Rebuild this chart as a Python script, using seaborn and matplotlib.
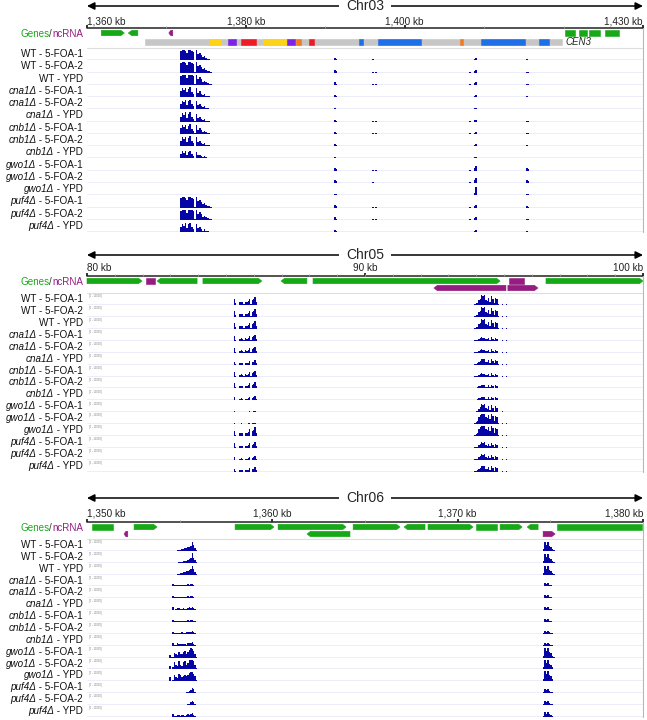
import numpy as np
import pandas as pd
import seaborn as sns
import matplotlib.pyplot as plt
from matplotlib.patches import Polygon
from matplotlib.lines import Line2D
from matplotlib.offsetbox import TextArea, HPacker, AnchoredOffsetbox

sns.set_theme(style="white")
plt.rcParams["font.family"] = ["Liberation Sans", "DejaVu Sans"]

# ---- samples ----
strains = ["WT", "cna1", "cnb1", "gwo1", "puf4"]
conditions = ["5-FOA-1", "5-FOA-2", "YPD"]

# ---- Chr03 data (kb) ----
c3_range = [1360, 1430]
c3_major = [1360, 1380, 1400, 1430]
c3_minor = [1370, 1390, 1410, 1420]
c3_gene_start = [1361.8, 1365.2, 1370.3, 1420.2, 1421.9, 1423.2, 1425.2]
c3_gene_end = [1364.7, 1366.4, 1370.8, 1421.5, 1423.0, 1424.6, 1427.0]
c3_gene_strand = ["+", "-", "-", ".", ".", ".", "."]
c3_gene_kind = ["gene", "gene", "ncrna", "gene", "gene", "gene", "gene"]
c3_gene_row = [0, 0, 0, 0, 0, 0, 0]
c3_cen_span = [1367.3, 1419.8]
c3_cen_start = [1375.4, 1377.8, 1379.4, 1382.2, 1385.2, 1386.3, 1388.0, 1394.3, 1396.6, 1406.9, 1409.6, 1416.9]
c3_cen_end = [1376.9, 1378.8, 1381.3, 1385.2, 1386.2, 1386.9, 1388.6, 1394.8, 1402.0, 1407.4, 1415.2, 1418.2]
c3_cen_kind = ["yellow", "purple", "red", "yellow", "purple", "orange", "red", "blue", "blue", "orange", "blue", "blue"]

c3_main_pos = list(np.linspace(1371.8, 1375.6, 20))
c3_minor_pos = [1391.2, 1391.4, 1396.0, 1396.4, 1408.2, 1408.8, 1409.0, 1415.4, 1415.6]
c3_block = [0.9, 1.0, 1.0, 0.95, 0.7, 1.0, 1.0, 0.95, 0.85, 0.05, 1.0, 0.6, 0.75, 0.55, 0.3, 0.4, 0.25, 0.15, 0.12, 0.05]
c3_peaky = [0.55, 0.85, 0.7, 0.9, 0.45, 0.8, 0.95, 0.5, 0.3, 0.05, 0.85, 0.4, 0.55, 0.35, 0.2, 0.3, 0.15, 0.1, 0.08, 0.03]
c3_small = [0.45, 0.7, 0.55, 0.7, 0.35, 0.6, 0.75, 0.4, 0.2, 0.03, 0.6, 0.3, 0.35, 0.2, 0.12, 0.2, 0.1, 0.06, 0.04, 0.0]
c3_mid = [0.5, 0.8, 0.6, 0.9, 0.4, 0.75, 0.9, 0.45, 0.25, 0.03, 0.75, 0.35, 0.45, 0.3, 0.15, 0.25, 0.1, 0.08, 0.05, 0.0]
c3_none = [0.0] * 20
c3_m_wt = [0.25, 0.12, 0.08, 0.06, 0.05, 0.15, 0.25, 0.1, 0.06]
c3_m_mut = [0.18, 0.08, 0.05, 0.04, 0.04, 0.12, 0.18, 0.07, 0.05]
c3_m_gwo = [0.3, 0.15, 0.05, 0.02, 0.08, 0.3, 0.45, 0.25, 0.15]
c3_m_gwoy = [0.15, 0.1, 0.02, 0.0, 0.05, 0.2, 0.8, 0.1, 0.1]
c3_tracks = [
    c3_block + c3_m_wt, c3_block + c3_m_wt, c3_block + c3_m_wt,
    c3_peaky + c3_m_mut, c3_peaky + c3_m_mut, c3_mid + c3_m_mut,
    c3_peaky + c3_m_mut, c3_peaky + c3_m_mut, c3_small + c3_m_mut,
    c3_none + c3_m_gwo, c3_none + c3_m_gwo, c3_none + c3_m_gwoy,
    c3_block + c3_m_wt, c3_block + c3_m_wt, c3_mid + c3_m_mut,
]

# ---- Chr05 data (kb) ----
c5_range = [80, 100]
c5_major = [80, 90, 100]
c5_minor = list(range(81, 100))
c5_gene_start = [80.0, 82.12, 82.52, 84.17, 86.98, 88.13, 95.18, 96.51, 92.48, 95.14]
c5_gene_end = [81.98, 82.45, 83.96, 86.29, 87.91, 94.86, 95.72, 100.0, 95.07, 96.22]
c5_gene_strand = ["+", ".", "-", "+", "-", "+", ".", "+", "-", "+"]
c5_gene_kind = ["gene", "ncrna", "gene", "gene", "gene", "gene", "ncrna", "gene", "ncrna", "ncrna"]
c5_gene_row = [0, 0, 0, 0, 0, 0, 0, 0, 1, 1]

c5a_pos = list(np.linspace(85.30, 86.10, 17))
c5b_pos = list(np.linspace(93.95, 95.10, 24))
c5a_wt = [0.6, 0.15, 0, 0, 0.25, 0.3, 0.25, 0.05, 0.3, 0.25, 0.35, 0.6, 0.05, 0.45, 0.55, 0.8, 0.3]
c5a_mid = [0.5, 0.1, 0, 0, 0.2, 0.25, 0.2, 0.05, 0.25, 0.2, 0.3, 0.5, 0.05, 0.35, 0.45, 0.6, 0.2]
c5a_low = [0.3, 0.05, 0, 0, 0.15, 0.2, 0.15, 0, 0.15, 0.15, 0.2, 0.35, 0, 0.25, 0.3, 0.45, 0.15]
c5a_faint = [0.1, 0.02, 0, 0, 0.05, 0.08, 0.05, 0, 0.05, 0.05, 0.08, 0.12, 0, 0.08, 0.1, 0.15, 0.05]
c5a_tall = [0.55, 0.15, 0, 0, 0.3, 0.35, 0.3, 0.05, 0.35, 0.3, 0.4, 0.7, 0.05, 0.55, 0.65, 0.95, 0.35]
c5b_wt = [0.1, 0.15, 0.2, 0.45, 0.6, 1.0, 0.85, 0.95, 0.5, 0.4, 0.7, 0.3, 0.85, 0.55, 0.2, 0.7, 0.55, 0.05, 0, 0, 0.12, 0, 0, 0.1]
c5b_big = [0.15, 0.25, 0.35, 0.7, 0.9, 1.0, 1.0, 1.0, 0.7, 0.6, 0.9, 0.5, 1.0, 0.8, 0.3, 0.85, 0.7, 0.08, 0, 0, 0.15, 0, 0, 0.12]
c5b_puf = [0.08, 0.12, 0.15, 0.35, 0.5, 0.85, 0.7, 0.8, 0.4, 0.3, 0.6, 0.25, 0.75, 0.45, 0.15, 0.6, 0.45, 0.05, 0, 0, 0.1, 0, 0, 0.08]
c5b_mid = [0.08, 0.1, 0.15, 0.3, 0.4, 0.6, 0.55, 0.6, 0.3, 0.25, 0.45, 0.2, 0.55, 0.35, 0.12, 0.45, 0.35, 0.03, 0, 0, 0.08, 0, 0, 0.06]
c5b_small = [0.05, 0.08, 0.1, 0.2, 0.25, 0.35, 0.3, 0.3, 0.15, 0.15, 0.3, 0.1, 0.35, 0.2, 0.08, 0.3, 0.2, 0, 0, 0, 0.05, 0, 0, 0.05]
c5_tracks = [
    c5a_wt + c5b_wt, c5a_wt + c5b_wt, c5a_wt + c5b_wt,
    c5a_mid + c5b_small, c5a_mid + c5b_small, c5a_low + c5b_mid,
    c5a_mid + c5b_small, c5a_mid + c5b_small, c5a_low + c5b_small,
    c5a_faint + c5b_puf, c5a_faint + c5b_big, c5a_tall + c5b_big,
    c5a_mid + c5b_mid, c5a_low + c5b_mid, c5a_low + c5b_mid,
]

# ---- Chr06 data (kb) ----
c6_range = [1350, 1380]
c6_major = [1350, 1360, 1370, 1380]
c6_minor = [1355, 1365, 1375]
c6_gene_start = [1350.27, 1352.0, 1352.54, 1357.99, 1360.31, 1361.87, 1364.36, 1367.11, 1368.40, 1370.99, 1372.29, 1373.75, 1374.61, 1375.36]
c6_gene_end = [1351.40, 1352.2, 1353.78, 1360.09, 1363.98, 1364.19, 1366.89, 1368.24, 1370.83, 1372.13, 1373.48, 1374.34, 1375.26, 1379.95]
c6_gene_strand = [".", "-", "+", "+", "+", "-", "+", "-", "+", ".", "+", "-", "+", "."]
c6_gene_kind = ["gene", "ncrna", "gene", "gene", "gene", "gene", "gene", "gene", "gene", "gene", "gene", "gene", "ncrna", "gene"]
c6_gene_row = [0, 1, 0, 0, 0, 1, 0, 0, 0, 0, 0, 0, 1, 0]

c6a_pos = list(np.linspace(1354.40, 1355.92, 20))
c6b_pos = list(np.linspace(1374.64, 1375.20, 8))
c6a_wt1 = [0, 0, 0, 0, 0, 0, 0.05, 0.08, 0.1, 0.15, 0.2, 0.25, 0.3, 0.35, 0.4, 0.5, 0.9, 0.6, 0.3, 0.05]
c6a_wt2 = [0, 0, 0, 0, 0, 0, 0, 0.05, 0.08, 0.1, 0.15, 0.2, 0.2, 0.25, 0.35, 0.5, 1.0, 0.5, 0.25, 0.05]
c6a_wty = [0, 0, 0, 0, 0, 0, 0.05, 0.1, 0.15, 0.2, 0.25, 0.3, 0.35, 0.4, 0.5, 0.6, 0.85, 0.55, 0.3, 0.05]
c6a_flat = [0, 0, 0, 0.2, 0.1, 0.1, 0.12, 0.1, 0.12, 0.15, 0.12, 0.1, 0.15, 0.2, 0.15, 0.2, 0.25, 0.15, 0.08, 0.02]
c6a_bumpy = [0, 0, 0, 0.3, 0.05, 0.1, 0.25, 0.2, 0.15, 0.15, 0.2, 0.15, 0.1, 0.25, 0.3, 0.25, 0.35, 0.2, 0.1, 0.02]
c6a_gwo1 = [0, 0.3, 0.05, 0.1, 0.5, 0.35, 0.25, 0.6, 0.4, 0.35, 0.55, 0.7, 0.4, 0.6, 0.8, 0.95, 0.9, 0.7, 0.4, 0.1]
c6a_gwo2 = [0.05, 0.4, 0.05, 0.2, 0.8, 0.45, 0.3, 0.85, 0.5, 0.4, 0.75, 0.9, 0.5, 0.7, 0.95, 1.0, 1.0, 0.85, 0.45, 0.1]
c6a_gwoy = [0, 0.45, 0.05, 0.15, 0.6, 0.4, 0.3, 0.7, 0.6, 0.4, 0.5, 0.6, 0.5, 0.6, 0.8, 0.9, 0.95, 0.7, 0.5, 0.1]
c6a_puf1 = [0, 0, 0, 0, 0, 0, 0, 0, 0, 0, 0, 0.05, 0.1, 0.15, 0.2, 0.35, 0.55, 0.4, 0.15, 0.03]
c6a_puf2 = [0, 0, 0, 0, 0, 0, 0, 0, 0, 0, 0, 0, 0.05, 0.1, 0.15, 0.3, 0.45, 0.3, 0.1, 0.02]
c6a_pufy = [0, 0, 0, 0.25, 0.05, 0.08, 0.2, 0.15, 0.1, 0.2, 0.2, 0.1, 0.15, 0.25, 0.2, 0.3, 0.4, 0.2, 0.08, 0.02]
c6b_wt = [0.15, 0.85, 0.6, 0.9, 0.45, 0.35, 0.15, 0.05]
c6b_small = [0.05, 0.3, 0.2, 0.3, 0.15, 0.1, 0.05, 0.02]
c6b_gwo = [0.2, 1.0, 0.7, 1.0, 0.6, 0.5, 0.2, 0.05]
c6b_puf = [0.1, 0.45, 0.3, 0.45, 0.25, 0.15, 0.07, 0.02]
c6_tracks = [
    c6a_wt1 + c6b_wt, c6a_wt2 + c6b_wt, c6a_wty + c6b_wt,
    c6a_flat + c6b_small, c6a_flat + c6b_small, c6a_bumpy + c6b_small,
    c6a_flat + c6b_small, c6a_flat + c6b_small, c6a_bumpy + c6b_small,
    c6a_gwo1 + c6b_gwo, c6a_gwo2 + c6b_gwo, c6a_gwoy + c6b_gwo,
    c6a_puf1 + c6b_puf, c6a_puf2 + c6b_puf, c6a_pufy + c6b_puf,
]

# ---- styling ----
W, H = 647, 720
X0, X1 = 87, 643
NAVY = "#0606a6"
GREEN = "#17a817"
MAGENTA = "#951c80"
SEP = "#a4a4e6"
LABEL_SIZE = 7.1
FEATURE_COLORS = {"yellow": "#ffd21a", "purple": "#7d22e6", "red": "#ee1c24",
                  "orange": "#f47a20", "blue": "#1f6fe8"}

panels = [
    dict(name="Chr03", rng=c3_range, major=c3_major, minor=c3_minor,
         genes=(c3_gene_start, c3_gene_end, c3_gene_strand, c3_gene_kind, c3_gene_row),
         pos=c3_main_pos + c3_minor_pos, tracks=c3_tracks, bw=0.2, cen=True, tiny=False,
         arrow=6, lab=21, ruler=28, rows=(33, 42), top=48, step=12.27),
    dict(name="Chr05", rng=c5_range, major=c5_major, minor=c5_minor,
         genes=(c5_gene_start, c5_gene_end, c5_gene_strand, c5_gene_kind, c5_gene_row),
         pos=c5a_pos + c5b_pos, tracks=c5_tracks, bw=0.05, cen=False, tiny=True,
         arrow=255, lab=268, ruler=276, rows=(281, 288), top=293, step=11.93),
    dict(name="Chr06", rng=c6_range, major=c6_major, minor=c6_minor,
         genes=(c6_gene_start, c6_gene_end, c6_gene_strand, c6_gene_kind, c6_gene_row),
         pos=c6a_pos + c6b_pos, tracks=c6_tracks, bw=0.08, cen=False, tiny=True,
         arrow=498, lab=513, ruler=522, rows=(527, 534), top=539, step=11.86),
]

# label pieces: (italic strain part, plain rest)
label_parts = []
for s in strains:
    for c in conditions:
        label_parts.append(("", f"WT - {c}") if s == "WT" else (f"{s}Δ", f" - {c}"))

fig = plt.figure(figsize=(W / 100, H / 100), dpi=100)


def px_ax(x0, y0, x1, y1):
    return fig.add_axes([x0 / W, 1 - y1 / H, (x1 - x0) / W, (y1 - y0) / H])


def right_label(pieces, y_px):
    areas = [TextArea(t, textprops=props) for t, props in pieces if t]
    box = HPacker(children=areas, align="baseline", pad=0, sep=0)
    fig.add_artist(AnchoredOffsetbox(loc="center right", child=box, pad=0, borderpad=0,
                                     frameon=False, bbox_to_anchor=(83 / W, 1 - y_px / H),
                                     bbox_transform=fig.transFigure))


def feature(ax, a, b, y, strand, color, ppk, half=2.7):
    tip = min(3.5 / ppk, (b - a) * 0.5)
    if strand == "+":
        pts = [(a, y - half), (b - tip, y - half), (b, y), (b - tip, y + half), (a, y + half)]
    elif strand == "-":
        pts = [(a + tip, y - half), (b, y - half), (b, y + half), (a + tip, y + half), (a, y)]
    else:
        pts = [(a, y - half), (b, y - half), (b, y + half), (a, y + half)]
    ax.add_patch(Polygon(pts, closed=True, facecolor=color, edgecolor=color,
                         lw=0.4, joinstyle="round", clip_on=False))


for p in panels:
    lo, hi = p["rng"]
    ppk = (X1 - X0) / (hi - lo)
    bottom = p["top"] + 15 * p["step"]

    # header: chromosome arrow, ruler, gene annotations
    hx = px_ax(X0, p["arrow"] - 10, X1, p["top"])
    hx.set_xlim(lo, hi)
    hx.set_ylim(p["top"], p["arrow"] - 10)
    hx.axis("off")
    hx.annotate("", xy=(lo, p["arrow"]), xytext=(hi, p["arrow"]),
                arrowprops=dict(arrowstyle="<|-|>", color="black", lw=1.1,
                                mutation_scale=11, shrinkA=0, shrinkB=0),
                annotation_clip=False)
    hx.text((lo + hi) / 2, p["arrow"], p["name"], ha="center", va="center", fontsize=10,
            bbox=dict(facecolor="white", edgecolor="none", pad=5))
    hx.plot([lo, hi], [p["ruler"], p["ruler"]], color="#444444", lw=1.3, clip_on=False)
    hx.vlines(p["major"], p["ruler"] - 3.5, p["ruler"], color="#222222", lw=1.3, clip_on=False)
    hx.vlines(p["minor"], p["ruler"] - 2.5, p["ruler"], color="#999999", lw=0.7, clip_on=False)
    for i, v in enumerate(p["major"]):
        ha = "left" if i == 0 else ("right" if i == len(p["major"]) - 1 else "center")
        hx.text(v, p["lab"], f"{v:,} kb", ha=ha, va="center", fontsize=7.2, color="#222222")

    g_start, g_end, g_strand, g_kind, g_row = p["genes"]
    for a, b, s, k, r in zip(g_start, g_end, g_strand, g_kind, g_row):
        feature(hx, a, b, p["rows"][r], s, GREEN if k == "gene" else MAGENTA, ppk)

    if p["cen"]:
        feature(hx, c3_cen_span[0], c3_cen_span[1], p["rows"][1], ".", "#c6c6c6", ppk, half=3.4)
        for a, b, k in zip(c3_cen_start, c3_cen_end, c3_cen_kind):
            feature(hx, a, b, p["rows"][1], ".", FEATURE_COLORS[k], ppk, half=3.4)
        hx.text(c3_cen_span[1] + 0.4, p["rows"][1], "CEN3", style="italic",
                ha="left", va="center", fontsize=7)

    # "Genes/ncRNA" label
    right_label([("Genes", dict(color=GREEN, size=LABEL_SIZE)),
                 ("/", dict(color="#333333", size=LABEL_SIZE)),
                 ("ncRNA", dict(color=MAGENTA, size=LABEL_SIZE))], p["rows"][0] + 1)

    # frame lines
    fig.add_artist(Line2D([X0 / W, X1 / W], [1 - p["top"] / H] * 2, color="#dddddd", lw=0.8))
    fig.add_artist(Line2D([X1 / W] * 2, [1 - p["ruler"] / H, 1 - bottom / H], color="#b8b8b8", lw=0.8))

    # coverage tracks
    span = (min(p["pos"]) - p["bw"] / 2, max(p["pos"]) + p["bw"] / 2)
    for i, w in enumerate(p["tracks"]):
        y0 = p["top"] + i * p["step"]
        ax = px_ax(X0, y0, X1, y0 + p["step"])
        cov = pd.DataFrame({"pos": p["pos"], "depth": w})
        sns.histplot(data=cov, x="pos", weights="depth", binwidth=p["bw"], binrange=span,
                     color=NAVY, alpha=1, linewidth=0, ax=ax)
        ax.set_xlim(lo, hi)
        ax.set_ylim(0, 1.2)
        ax.axis("off")
        ax.axhline(0, color=SEP, lw=1.0, zorder=0)
        if p["tiny"]:
            ax.text(0.004, 0.9, "[0 - 10000]", transform=ax.transAxes, fontsize=1.8,
                    color="#777777", ha="left", va="top")
        it, rest = label_parts[i]
        right_label([(it, dict(size=LABEL_SIZE, style="italic", color="#111111")),
                     (rest, dict(size=LABEL_SIZE, color="#111111"))],
                    y0 + p["step"] / 2)

fig.savefig("out.png", dpi=100)
